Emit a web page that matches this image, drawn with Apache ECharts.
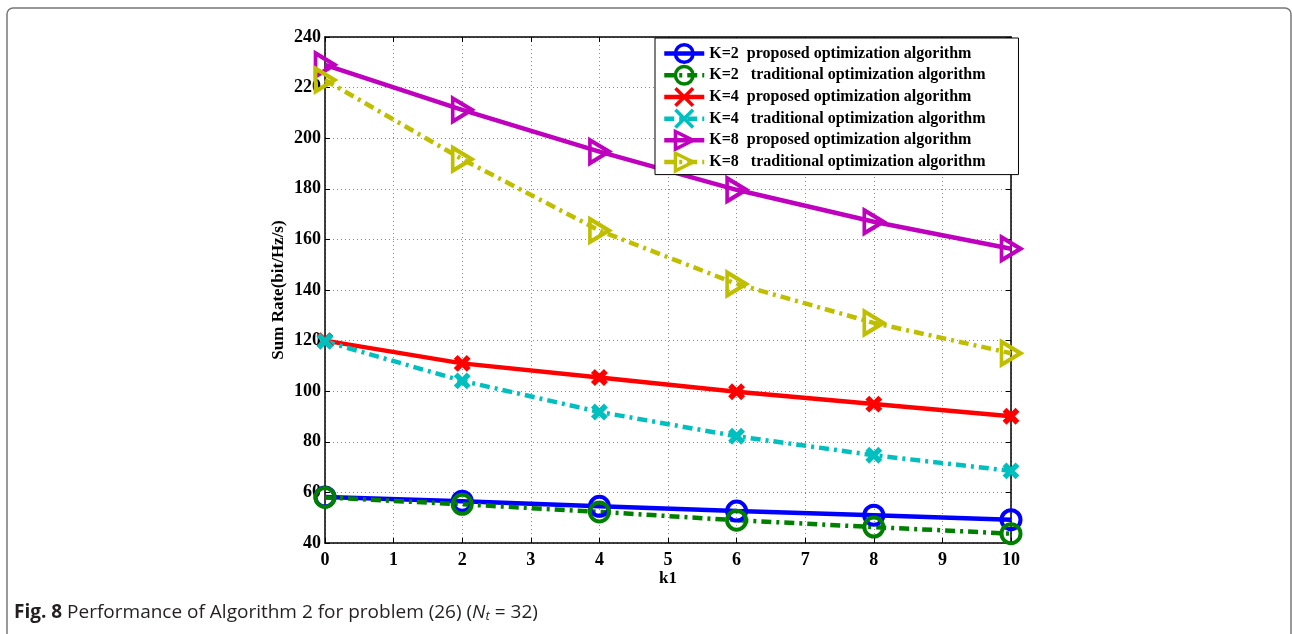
<!DOCTYPE html>
<html lang="en">

<head>
    <meta charset="UTF-8">
    <title>Fig. 8 Performance of Algorithm 2</title>
    <script src="https://cdn.jsdelivr.net/npm/echarts@6/dist/echarts.min.js"></script>
    <style>
        html,
        body {
            width: 100%;
            height: 100%;
            margin: 0px;
            padding: 0px;
            background: #fff;
        }

        #chart {
            width: 1292px;
            height: 634px;
        }
    </style>
</head>

<body>
    <div id="chart"></div>
    <script>
        // data
        var k1 = [0, 2, 4, 6, 8, 10];
        var k2Proposed = [58.2, 56.5, 54.5, 52.6, 51, 49.2];
        var k2Traditional = [58, 55.3, 52.3, 49, 46.3, 43.7];
        var k4Proposed = [120, 111, 105.4, 99.8, 94.9, 90.1];
        var k4Traditional = [119.7, 104.1, 91.8, 82.2, 74.7, 68.5];
        var k8Proposed = [229, 211.2, 194.7, 179.6, 167, 156.3];
        var k8Traditional = [223, 191.7, 163.5, 142.4, 127, 115];

        var seriesNames = [
            'K=2  proposed optimization algorithm',
            'K=2   traditional optimization algorithm',
            'K=4  proposed optimization algorithm',
            'K=4   traditional optimization algorithm',
            'K=8  proposed optimization algorithm',
            'K=8   traditional optimization algorithm'
        ];

        var serif = '"Liberation Serif", "Times New Roman", serif';
        var dashDot = [10, 5, 3, 5];

        var CIRCLE = 'circle';
        var CROSS = 'path://M0,0L10,10M10,0L0,10';
        var TRIANGLE = 'path://M0,0L10,6L0,12Z';

        function makeSeries(name, values, color, symbol, size, border, dashed) {
            return {
                name: name,
                type: 'line',
                data: k1.map(function (x, i) { return [x, values[i]]; }),
                symbol: symbol,
                symbolSize: size,
                showAllSymbol: true,
                lineStyle: {
                    color: color,
                    width: 4.5,
                    type: dashed ? dashDot : 'solid'
                },
                itemStyle: {
                    color: 'rgba(0,0,0,0)',
                    borderColor: color,
                    borderWidth: border
                },
                emphasis: { disabled: true },
                animation: false
            };
        }

        var chart = echarts.init(document.getElementById('chart'));

        var option = {
            backgroundColor: '#fff',
            animation: false,
            grid: {
                left: 325,
                right: 281,
                top: 37,
                bottom: 91
            },
            legend: {
                orient: 'vertical',
                left: 655,
                top: 38,
                data: seriesNames,
                itemWidth: 40,
                itemHeight: 22,
                itemGap: 0.6,
                itemTextGap: 5,
                padding: [5, 33, 2, 7],
                backgroundColor: '#fff',
                borderColor: '#000',
                borderWidth: 1,
                lineStyle: { width: 4.5 },
                itemStyle: { borderWidth: 3.5 },
                textStyle: {
                    fontFamily: serif,
                    fontWeight: 'bold',
                    fontSize: 16,
                    color: '#000'
                }
            },
            xAxis: [{
                type: 'value',
                min: 0,
                max: 10,
                interval: 1,
                name: 'k1',
                nameLocation: 'middle',
                nameGap: 27,
                nameMoveOverlap: false,
                nameTextStyle: {
                    fontFamily: serif,
                    fontWeight: 'bold',
                    fontSize: 17,
                    color: '#000'
                },
                axisLine: { onZero: false, lineStyle: { color: '#000', width: 1.5 } },
                axisTick: { inside: true, length: 5, lineStyle: { color: '#000' } },
                axisLabel: {
                    margin: 8,
                    fontFamily: serif,
                    fontWeight: 'bold',
                    fontSize: 18,
                    color: '#000'
                },
                splitLine: { lineStyle: { color: '#888', type: [1, 3], width: 1 } }
            }, {
                type: 'value',
                position: 'top',
                min: 0,
                max: 10,
                interval: 1,
                axisLine: { onZero: false, lineStyle: { color: '#000', width: 1.5 } },
                axisTick: { inside: true, length: 5, lineStyle: { color: '#000' } },
                axisLabel: { show: false },
                splitLine: { show: false }
            }],
            yAxis: [{
                type: 'value',
                min: 40,
                max: 240,
                interval: 20,
                name: 'Sum Rate(bit/Hz/s)',
                nameLocation: 'middle',
                nameGap: 38,
                nameMoveOverlap: false,
                nameTextStyle: {
                    fontFamily: serif,
                    fontWeight: 'bold',
                    fontSize: 17,
                    color: '#000'
                },
                axisLine: { onZero: false, lineStyle: { color: '#000', width: 1.5 } },
                axisTick: { inside: true, length: 5, lineStyle: { color: '#000' } },
                axisLabel: {
                    margin: 4,
                    fontFamily: serif,
                    fontWeight: 'bold',
                    fontSize: 18,
                    color: '#000'
                },
                splitLine: { lineStyle: { color: '#888', type: [1, 3], width: 1 } }
            }, {
                type: 'value',
                position: 'right',
                min: 40,
                max: 240,
                interval: 20,
                axisLine: { onZero: false, lineStyle: { color: '#000', width: 1.5 } },
                axisTick: { inside: true, length: 5, lineStyle: { color: '#000' } },
                axisLabel: { show: false },
                splitLine: { show: false }
            }],
            series: [
                makeSeries(seriesNames[0], k2Proposed, '#0000ff', CIRCLE, 19, 4, false),
                makeSeries(seriesNames[1], k2Traditional, '#008000', CIRCLE, 19, 4, true),
                makeSeries(seriesNames[2], k4Proposed, '#ff0000', CROSS, 13, 5.5, false),
                makeSeries(seriesNames[3], k4Traditional, '#00bfbf', CROSS, 13, 5.5, true),
                makeSeries(seriesNames[4], k8Proposed, '#bf00bf', TRIANGLE, [19, 23], 4, false),
                makeSeries(seriesNames[5], k8Traditional, '#bfbf00', TRIANGLE, [19, 23], 4, true)
            ],
            graphic: [{
                type: 'rect',
                z: 0,
                silent: true,
                shape: { x: 7, y: 8, width: 1284, height: 700, r: 6 },
                style: { fill: 'none', stroke: '#777', lineWidth: 1.5 }
            }, {
                type: 'text',
                left: 14,
                top: 603,
                silent: true,
                style: {
                    text: '{b|Fig. 8} Performance of Algorithm 2 for problem (26) ({i|N}{s|t} = 32)',
                    font: '19px "Open Sans", "Noto Sans", sans-serif',
                    fill: '#231f20',
                    rich: {
                        b: { fontWeight: 'bold', fontSize: 19, fontFamily: '"Open Sans", sans-serif', fill: '#231f20' },
                        i: { fontStyle: 'italic', fontSize: 19, fontFamily: '"Open Sans", sans-serif', fill: '#231f20' },
                        s: { fontStyle: 'italic', fontSize: 13, fontFamily: '"Open Sans", sans-serif', fill: '#231f20', verticalAlign: 'bottom', padding: [7, 0, 0, 0] }
                    }
                }
            }]
        };

        chart.setOption(option);
    </script>
</body>

</html>
